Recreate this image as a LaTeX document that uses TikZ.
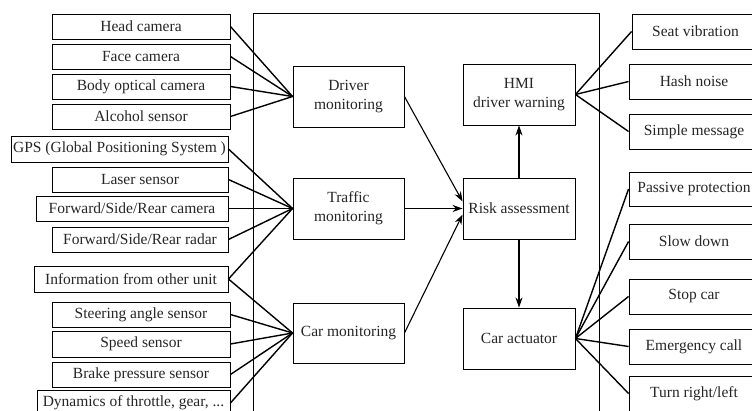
\documentclass[tikz,border=0pt]{standalone}
\usepackage{fontspec}
\setmainfont{Liberation Serif}
\usetikzlibrary{arrows.meta}
\begin{document}
\begin{tikzpicture}[x=1pt,y=-1pt,
  box/.style={draw, line width=0.9pt, inner sep=0pt, align=center,
    font=\fontsize{15.5}{19}\selectfont, text=black!85},
  lbox/.style={box, minimum height=25pt},
  mbox/.style={box, minimum width=111pt, minimum height=61pt},
  rbox/.style={box, minimum width=130pt, minimum height=35pt},
  link/.style={line width=1.4pt},
  arr/.style={line width=1.1pt, -{Stealth[length=10pt,width=7pt]}},
  frame/.style={line width=1pt}]
\useasboundingbox (0,0) rectangle (752,411);
\clip (0,0) rectangle (752,411);
\fill[white] (0,0) rectangle (752,411);
% frame
\draw[frame] (253,440) -- (253,14) -- (599,14) -- (599,440);
% left boxes
\node[lbox, minimum width=178pt] (head) at (141,26.5) {Head camera};
\node[lbox, minimum width=178pt] (face) at (141,56.5) {Face camera};
\node[lbox, minimum width=178pt] (body) at (141,86.5) {Body optical camera};
\node[lbox, minimum width=178pt] (alc) at (141,116.5) {Alcohol sensor};
\node[lbox, minimum width=217pt, minimum height=26pt] (gps) at (119.5,149) {GPS (Global Positioning System )};
\node[lbox, minimum width=176pt] (laser) at (140,179.5) {Laser sensor};
\node[lbox, minimum width=192pt] (fcam) at (132,208.5) {Forward/Side/Rear camera};
\node[lbox, minimum width=176pt] (frad) at (140,239.5) {Forward/Side/Rear radar};
\node[lbox, minimum width=194pt, minimum height=26pt] (info) at (131,279) {Information from other unit};
\node[lbox, minimum width=178pt] (steer) at (141,314.5) {Steering angle sensor};
\node[lbox, minimum width=178pt, minimum height=26pt] (speed) at (141,344) {Speed sensor};
\node[lbox, minimum width=178pt] (brake) at (141,374.5) {Brake pressure sensor};
\node[lbox, minimum width=193pt, minimum height=26pt] (dyn) at (133.5,403) {Dynamics of throttle, gear, ...};
% middle boxes
\node[mbox] (drv) at (348.5,96.5) {Driver\\monitoring};
\node[mbox] (trf) at (348.5,208.5) {Traffic\\monitoring};
\node[mbox, minimum height=60pt] (carm) at (348.5,333) {Car monitoring};
\node[mbox, minimum width=112pt] (hmi) at (519,94.5) {HMI\\driver warning};
\node[mbox, minimum width=112pt] (risk) at (519,208.5) {Risk assessment};
\node[mbox, minimum width=112pt] (act) at (519,338.5) {Car actuator};
% right boxes
\node[rbox, minimum width=127pt] (seat) at (695.5,31.5) {Seat vibration};
\node[rbox] (hash) at (694,81.5) {Hash noise};
\node[rbox] (simple) at (694,131.5) {Simple message};
\node[rbox, minimum height=34pt] (passive) at (694,189) {Passive protection};
\node[rbox] (slow) at (694,241.5) {Slow down};
\node[rbox] (stop) at (694,296.5) {Stop car};
\node[rbox] (emerg) at (694,346.5) {Emergency call};
\node[rbox] (turn) at (694,393.5) {Turn right/left};
% fans
\foreach \s in {head,face,body,alc} \draw[link] (\s.east) -- (drv.west);
\foreach \s in {gps,laser,fcam,frad,info} \draw[link] (\s.east) -- (trf.west);
\foreach \s in {info,steer,speed,brake,dyn} \draw[link] (\s.east) -- (carm.west);
\foreach \t in {seat,hash,simple} \draw[link] (hmi.east) -- (\t.west);
\foreach \t in {passive,slow,stop,emerg,turn} \draw[link] (act.east) -- (\t.west);
% arrows
\draw[arr] (drv.east) -- ([yshift=7pt]risk.west);
\draw[arr] (trf.east) -- (risk.west);
\draw[arr] (carm.east) -- ([yshift=-6pt]risk.west);
\draw[arr] (risk.north) -- (hmi.south);
\draw[arr] (risk.south) -- (act.north);
\end{tikzpicture}
\end{document}
